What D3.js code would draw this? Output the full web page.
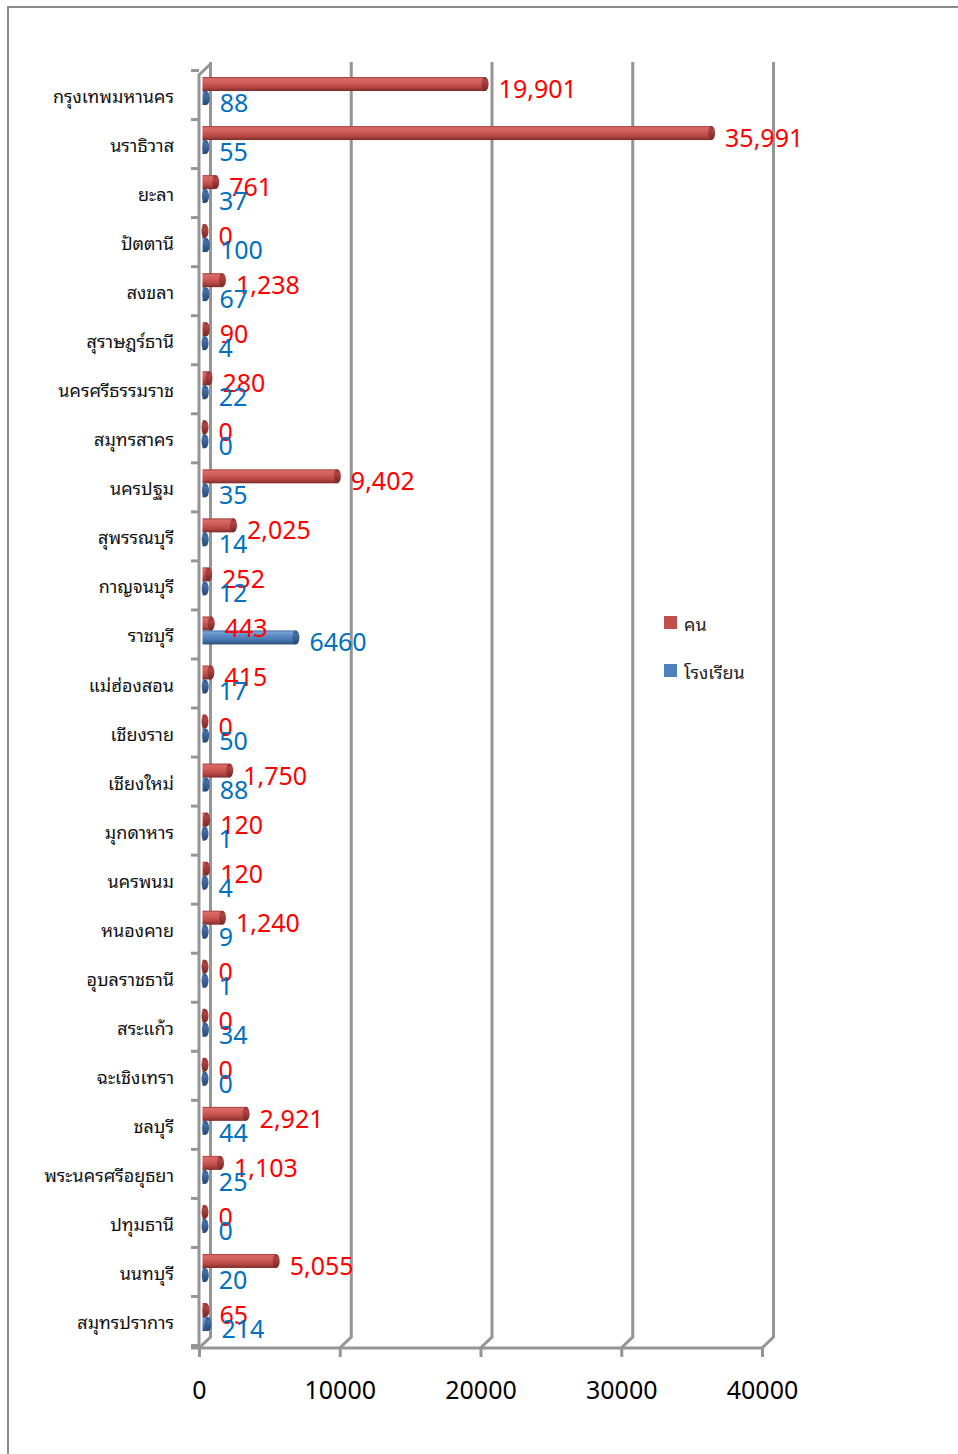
<!DOCTYPE html>
<html>
<head>
<meta charset="utf-8">
<script src="https://cdn.jsdelivr.net/npm/d3@7"></script>
<style>
  html, body { margin: 0; padding: 0; background: #fff; }
  svg { display: block; }
</style>
</head>
<body>
<svg id="chart" width="958" height="1454"></svg>
<script>
// ---------- DATA ----------
const provinces = [
  "กรุงเทพมหานคร", "นราธิวาส", "ยะลา", "ปัตตานี", "สงขลา", "สุราษฎร์ธานี",
  "นครศรีธรรมราช", "สมุทรสาคร", "นครปฐม", "สุพรรณบุรี", "กาญจนบุรี", "ราชบุรี",
  "แม่ฮ่องสอน", "เชียงราย", "เชียงใหม่", "มุกดาหาร", "นครพนม", "หนองคาย",
  "อุบลราชธานี", "สระแก้ว", "ฉะเชิงเทรา", "ชลบุรี", "พระนครศรีอยุธยา", "ปทุมธานี",
  "นนทบุรี", "สมุทรปราการ"
];
const people = [19901, 35991, 761, 0, 1238, 90, 280, 0, 9402, 2025, 252, 443,
  415, 0, 1750, 120, 120, 1240, 0, 0, 0, 2921, 1103, 0, 5055, 65];
const schools = [88, 55, 37, 100, 67, 4, 22, 0, 35, 14, 12, 6460,
  17, 50, 88, 1, 4, 9, 1, 34, 0, 44, 25, 0, 20, 214];
const seriesNames = ["คน", "โรงเรียน"];
const xTicks = [0, 10000, 20000, 30000, 40000];

// ---------- LAYOUT ----------
const svg = d3.select("#chart");
const frontLeft = 199, frontRight = 762, floorY = 1348;
const depthX = 11.5, depthY = -11;     // back wall offset
const midX = 6;                        // bars sit at mid depth
const capRx = 3.5;
const thaiFont = "'Noto Sans Thai Looped', 'Loma', 'Garuda', 'Tahoma', 'Noto Sans', 'Noto Sans Thai', sans-serif";

const x = d3.scaleLinear().domain([0, 40000]).range([frontLeft, frontRight]);
const y = d3.scaleBand().domain(provinces).range([70.5, 70.5 + 26 * 49.04]).padding(0);
const ySub = d3.scaleBand().domain(seriesNames).range([6.5, 34.5]).padding(0);

// frame
svg.append("rect").attr("x", 8).attr("y", 7).attr("width", 980).attr("height", 1480)
  .attr("fill", "none").attr("stroke", "#8a8a8a").attr("stroke-width", 2);

const defs = svg.append("defs");
function cylGrad(id, stops) {
  const g = defs.append("linearGradient").attr("id", id)
    .attr("x1", 0).attr("y1", 0).attr("x2", 0).attr("y2", 1);
  stops.forEach(s => g.append("stop").attr("offset", s[0]).attr("stop-color", s[1]));
}
cylGrad("gRed", [[0, "#9c3a38"], [0.12, "#d86a68"], [0.35, "#d45f5c"], [0.7, "#b94946"], [0.9, "#953633"], [1, "#7a2a28"]]);
cylGrad("gBlue", [[0, "#3a6498"], [0.12, "#79a3d8"], [0.35, "#5d8cc8"], [0.7, "#4674ad"], [0.9, "#335b8e"], [1, "#284a75"]]);
cylGrad("gRedCap", [[0, "#8a302e"], [0.3, "#b04442"], [1, "#732725"]]);
cylGrad("gBlueCap", [[0, "#30578a"], [0.3, "#456fa6"], [1, "#264670"]]);

const gridColor = "#959595";
const topY = 64;
const backBottom = floorY + depthY;

// back wall gridlines with floor diagonals
const grid = svg.append("g");
xTicks.forEach(t => {
  const bx = x(t) + depthX;
  grid.append("path")
    .attr("d", `M${bx},${topY - 2} L${bx},${backBottom} L${x(t)},${floorY}`)
    .attr("fill", "none").attr("stroke", gridColor).attr("stroke-width", 3);
});
// left front axis
grid.append("path")
  .attr("d", `M${frontLeft},${floorY} L${frontLeft},${topY - depthY} L${frontLeft + depthX},${topY}`)
  .attr("fill", "none").attr("stroke", gridColor).attr("stroke-width", 3);
// floor front line
grid.append("line").attr("x1", frontLeft - 8).attr("x2", frontRight)
  .attr("y1", floorY).attr("y2", floorY)
  .attr("stroke", gridColor).attr("stroke-width", 3);

// bottom axis ticks and labels
const xAxis = d3.axisBottom(x).tickValues(xTicks).tickSize(9).tickPadding(24).tickFormat(d3.format("d"));
const xa = svg.append("g").attr("transform", `translate(0,${floorY})`).call(xAxis);
xa.select(".domain").remove();
xa.selectAll(".tick line").attr("stroke", gridColor).attr("stroke-width", 3);
xa.selectAll(".tick text").attr("fill", "#000").attr("font-size", 25)
  .attr("font-family", "'Noto Sans', 'Open Sans', sans-serif");

// left axis: category labels and ticks
const yBoundaries = d3.range(0, 27).map(i => 70.5 + i * y.step());
svg.append("g").selectAll("line").data(yBoundaries).join("line")
  .attr("x1", frontLeft - 8).attr("x2", frontLeft).attr("y1", d => d).attr("y2", d => d)
  .attr("stroke", gridColor).attr("stroke-width", 3);

svg.append("g").selectAll("text").data(provinces).join("text")
  .attr("x", 174).attr("y", d => y(d) + y.bandwidth() / 2)
  .attr("text-anchor", "end").attr("dominant-baseline", "central")
  .attr("font-size", 18).attr("fill", "#111")
  .attr("font-family", thaiFont)
  .text(d => d);

// ---------- BARS ----------
const rows = provinces.map((p, i) => ({ p, values: [people[i], schools[i]] }));
const series = [
  { name: "คน", grad: "gRed", cap: "gRedCap", label: "#ff0000", fmt: d3.format(",") },
  { name: "โรงเรียน", grad: "gBlue", cap: "gBlueCap", label: "#0070c0", fmt: d3.format("d") }
];

const barsG = svg.append("g");
series.forEach((s, si) => {
  const h = ySub.bandwidth();
  const g = barsG.append("g");
  rows.forEach(r => {
    const v = r.values[si];
    const y0 = y(r.p) + ySub(s.name);
    const x0 = x(0) + midX;
    const x1 = x(v) + midX;
    g.append("rect").attr("x", x0 - capRx + 1).attr("y", y0)
      .attr("width", Math.max(0, x1 - x0 + capRx - 1)).attr("height", h)
      .attr("fill", `url(#${s.grad})`);
    g.append("ellipse").attr("cx", x1).attr("cy", y0 + h / 2)
      .attr("rx", capRx).attr("ry", h / 2)
      .attr("fill", `url(#${s.cap})`);
  });
});

// ---------- VALUE LABELS ----------
series.forEach((s, si) => {
  svg.append("g").selectAll("text").data(rows).join("text")
    .attr("x", d => x(d.values[si]) + midX + capRx + 10)
    .attr("y", d => y(d.p) + ySub(s.name) + ySub.bandwidth() / 2 + 4)
    .attr("dominant-baseline", "central")
    .attr("font-size", 25).attr("fill", s.label)
    .attr("font-family", "'Noto Sans', 'Open Sans', sans-serif")
    .text(d => s.fmt(d.values[si]));
});

// ---------- LEGEND ----------
const legend = svg.append("g").attr("transform", "translate(664,616)");
const legItems = [{ n: "คน", c: "#c0504d" }, { n: "โรงเรียน", c: "#4f81bd" }];
legItems.forEach((d, i) => {
  const gi = legend.append("g").attr("transform", `translate(0,${i * 48})`);
  gi.append("rect").attr("width", 13).attr("height", 13).attr("fill", d.c);
  gi.append("text").attr("x", 20).attr("y", 6.5).attr("dominant-baseline", "central")
    .attr("font-size", 18).attr("fill", "#222")
    .attr("font-family", thaiFont)
    .text(d.n);
});
</script>
</body>
</html>
